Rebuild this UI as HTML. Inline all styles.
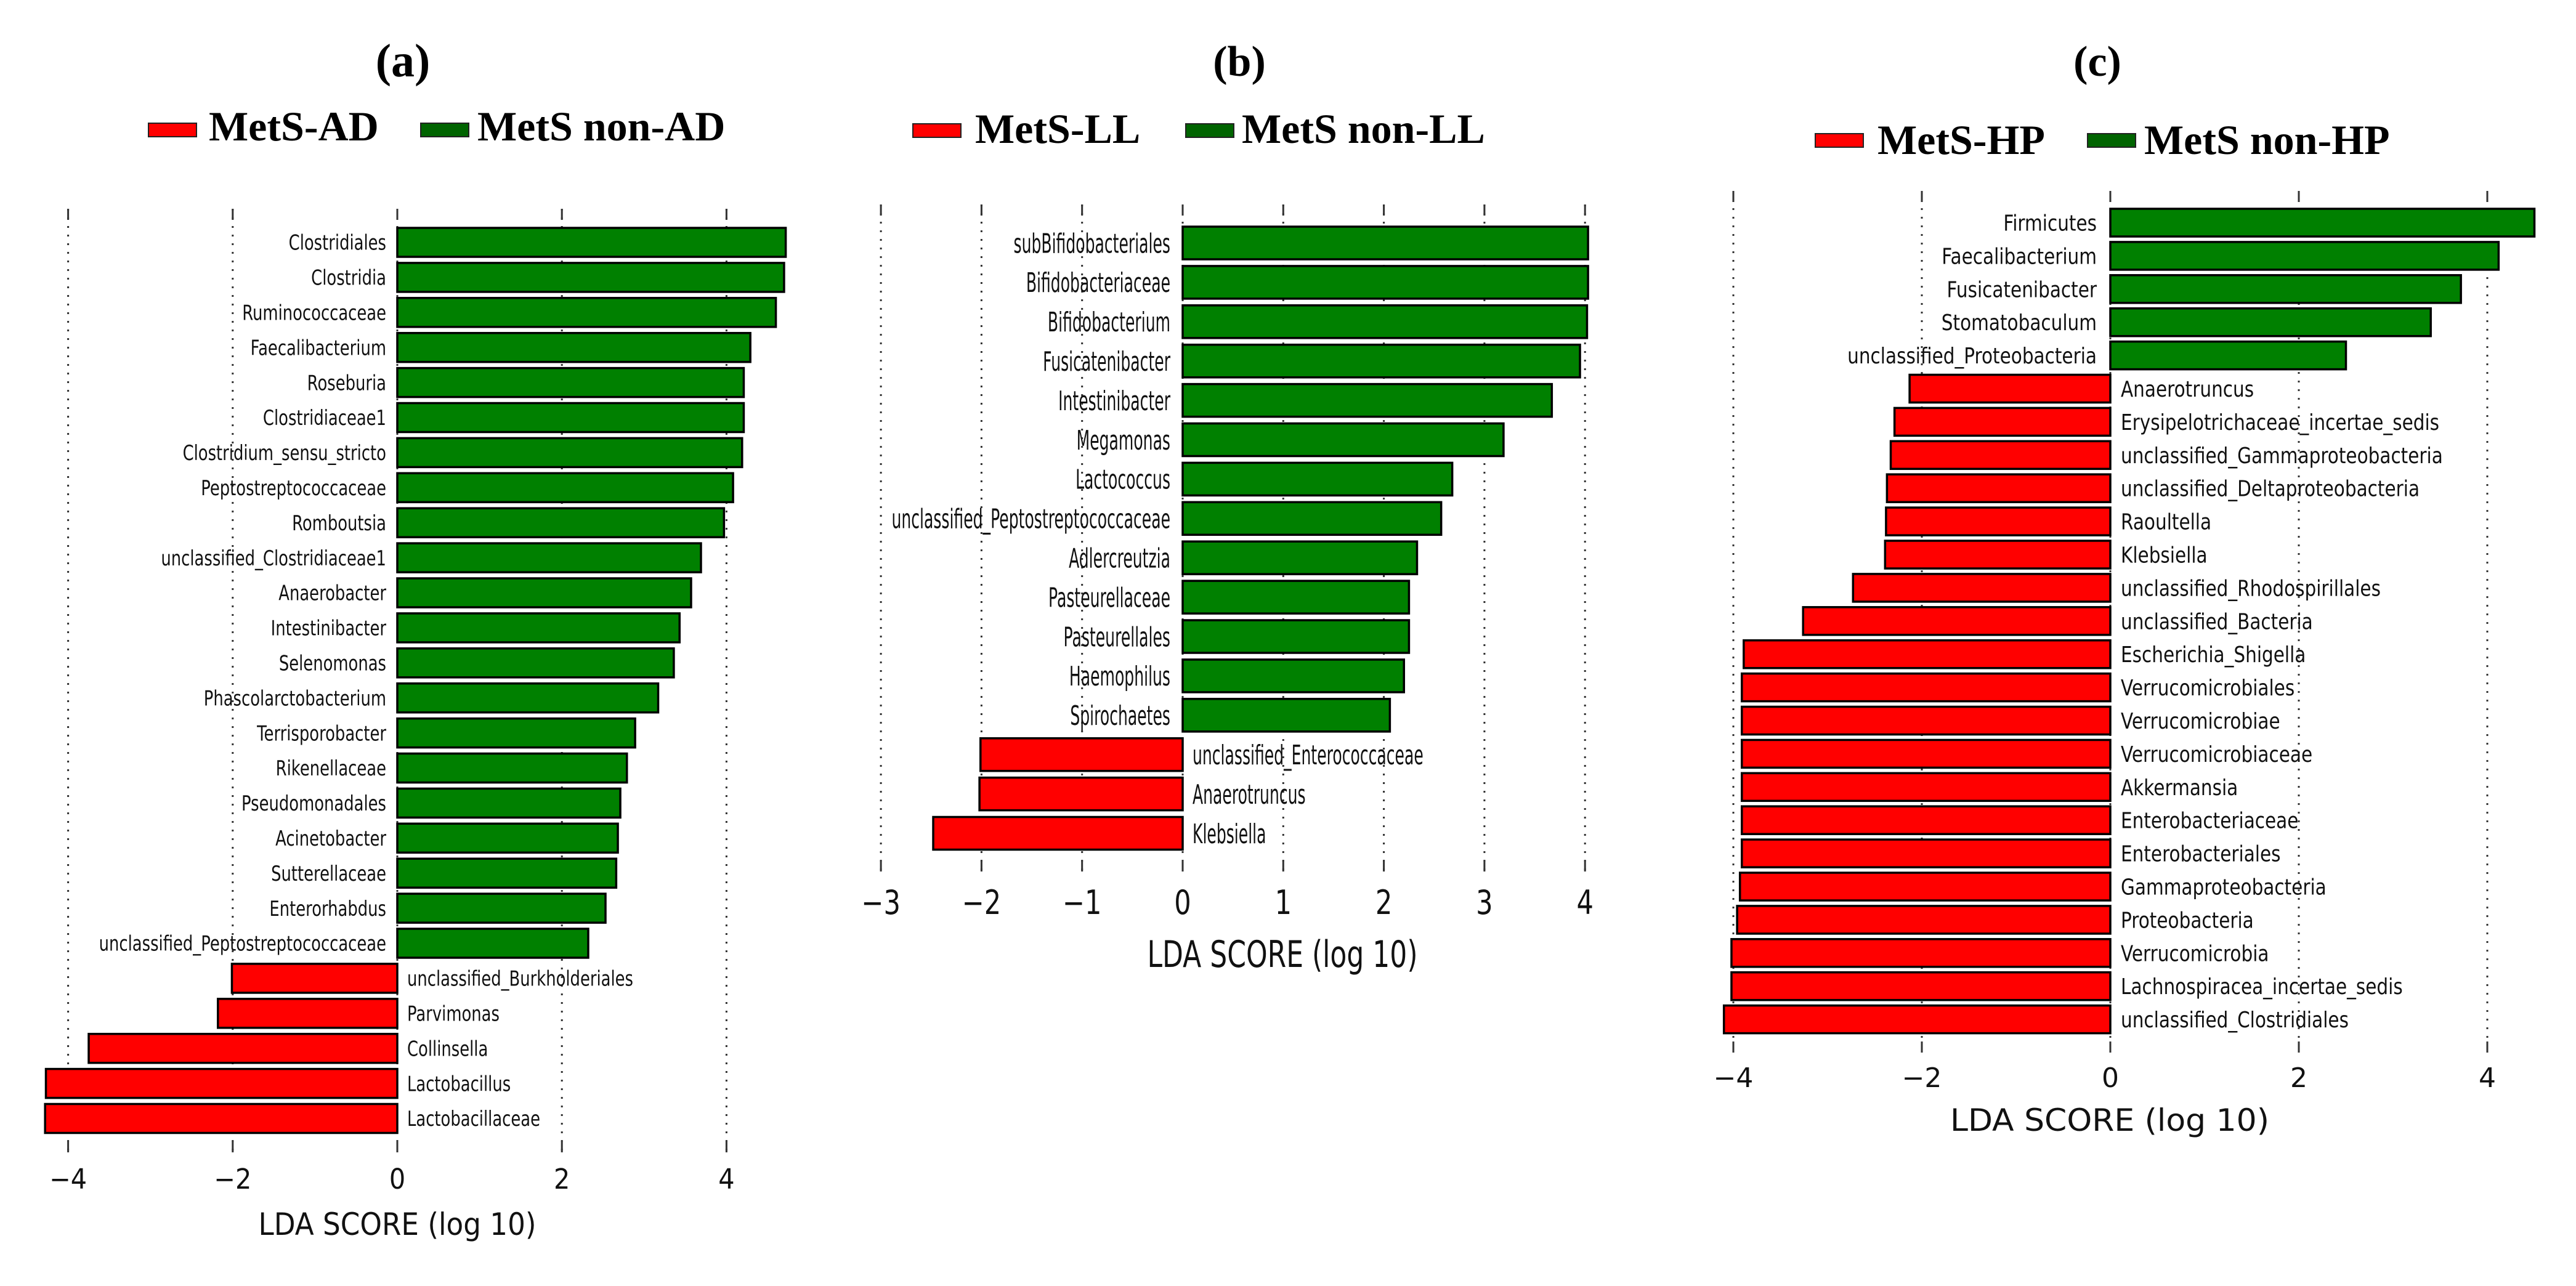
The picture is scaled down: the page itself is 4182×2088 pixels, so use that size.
<!DOCTYPE html>
<html><head><meta charset="utf-8"><style>
html,body{margin:0;padding:0;background:#fff;}
svg{display:block;}
.lg{font-family:"Liberation Serif",serif;font-weight:bold;}
.sn{font-family:"DejaVu Sans","Liberation Sans",sans-serif;fill:#111;}
</style></head><body>
<svg id="fig" width="4182" height="2088" viewBox="0 0 4182 2088" xmlns="http://www.w3.org/2000/svg">
<rect width="4182" height="2088" fill="#fff"/>
</svg>
<script>
// Panel (a)
const aCats = ["Clostridiales","Clostridia","Ruminococcaceae","Faecalibacterium","Roseburia","Clostridiaceae1","Clostridium_sensu_stricto","Peptostreptococcaceae","Romboutsia","unclassified_Clostridiaceae1","Anaerobacter","Intestinibacter","Selenomonas","Phascolarctobacterium","Terrisporobacter","Rikenellaceae","Pseudomonadales","Acinetobacter","Sutterellaceae","Enterorhabdus","unclassified_Peptostreptococcaceae","unclassified_Burkholderiales","Parvimonas","Collinsella","Lactobacillus","Lactobacillaceae"];
const aVals = [4.72,4.70,4.60,4.29,4.21,4.21,4.19,4.08,3.97,3.69,3.57,3.43,3.36,3.17,2.89,2.79,2.71,2.68,2.66,2.53,2.32,-2.01,-2.18,-3.75,-4.27,-4.28];
const aTicks = [-4,-2,0,2,4];
const aTickLabels = ["\u22124","\u22122","0","2","4"];
const aLegend = ["MetS-AD","MetS non-AD"];
// Panel (b)
const bCats = ["subBifidobacteriales","Bifidobacteriaceae","Bifidobacterium","Fusicatenibacter","Intestinibacter","Megamonas","Lactococcus","unclassified_Peptostreptococcaceae","Adlercreutzia","Pasteurellaceae","Pasteurellales","Haemophilus","Spirochaetes","unclassified_Enterococcaceae","Anaerotruncus","Klebsiella"];
const bVals = [4.03,4.03,4.02,3.95,3.67,3.19,2.68,2.57,2.33,2.25,2.25,2.20,2.06,-2.01,-2.02,-2.48];
const bTicks = [-3,-2,-1,0,1,2,3,4];
const bTickLabels = ["\u22123","\u22122","\u22121","0","1","2","3","4"];
const bLegend = ["MetS-LL","MetS non-LL"];
// Panel (c)
const cCats = ["Firmicutes","Faecalibacterium","Fusicatenibacter","Stomatobaculum","unclassified_Proteobacteria","Anaerotruncus","Erysipelotrichaceae_incertae_sedis","unclassified_Gammaproteobacteria","unclassified_Deltaproteobacteria","Raoultella","Klebsiella","unclassified_Rhodospirillales","unclassified_Bacteria","Escherichia_Shigella","Verrucomicrobiales","Verrucomicrobiae","Verrucomicrobiaceae","Akkermansia","Enterobacteriaceae","Enterobacteriales","Gammaproteobacteria","Proteobacteria","Verrucomicrobia","Lachnospiracea_incertae_sedis","unclassified_Clostridiales"];
const cVals = [4.50,4.12,3.72,3.40,2.50,-2.13,-2.29,-2.33,-2.37,-2.38,-2.39,-2.73,-3.26,-3.89,-3.91,-3.91,-3.91,-3.91,-3.91,-3.91,-3.93,-3.96,-4.02,-4.02,-4.10];
const cTicks = [-4,-2,0,2,4];
const cTickLabels = ["\u22124","\u22122","0","2","4"];
const cLegend = ["MetS-HP","MetS non-HP"];

const NS="http://www.w3.org/2000/svg";
const svg=document.getElementById('fig');
function mk(tag,attrs,parent){const e=document.createElementNS(NS,tag);for(const k in attrs)e.setAttribute(k,attrs[k]);(parent||svg).appendChild(e);return e;}

function panel(cfg,cats,vals,ticks,tickLabels,legend){
  const g=mk('g',{});
  
  
  const xs=v=>cfg.x0+v*cfg.unit;
  const ys=i=>cfg.top+i*cfg.pitch;
  const t=mk('text',{x:cfg.titleX,y:cfg.titleY,'text-anchor':'middle','font-size':cfg.titleFs,class:'lg'},g);
  t.textContent='('+cfg.id+')';
  
  
  const lc=['#ff0000','#006400'];
  for(let k=0;k<2;k++){
    const r=mk('rect',{x:cfg.leg[k][0],y:cfg.legY,width:78,height:22,fill:lc[k],stroke:'#222','stroke-width':2},g);
    
    
    const lt=mk('text',{x:cfg.leg[k][1],y:cfg.legBase,'font-size':68,class:'lg'},g);
    lt.textContent=legend[k];
    
    
  }
  ticks.forEach((v,i)=>{
    const x=xs(v);
    const gl=mk('line',{x1:x,x2:x,y1:cfg.gTop,y2:cfg.gBot,stroke:'#333','stroke-width':3,'stroke-dasharray':'3 11'},g);
    
    
    mk('line',{x1:x,x2:x,y1:cfg.gTop,y2:cfg.gTop+18,stroke:'#333','stroke-width':3},g);
    mk('line',{x1:x,x2:x,y1:cfg.gBot-18,y2:cfg.gBot,stroke:'#333','stroke-width':3},g);
    const tl=mk('text',{'text-anchor':'middle','font-size':cfg.tickFs,class:'sn',transform:`translate(${x},${cfg.tickBase}) scale(${cfg.tickSx},1)`},g);
    tl.textContent=tickLabels[i];
    
    
  });
  cats.forEach((c,i)=>{
    const v=vals[i];
    const y=ys(i);
    const x1=Math.min(xs(0),xs(v)), w=Math.abs(xs(v)-xs(0));
    const b=mk('rect',{x:x1,y:y,width:w,height:cfg.bh,fill:v>=0?'#008000':'#ff0000',stroke:'#000','stroke-width':3.5},g);
    
    
    const pos=v>=0;
    const lx=pos?xs(0)-cfg.lgap:xs(0)+cfg.rgap;
    const ly=y+cfg.bh/2+cfg.lblFs*0.36;
    const lb=mk('text',{'text-anchor':pos?'end':'start','font-size':cfg.lblFs,class:'sn',transform:`translate(${lx},${ly}) scale(${cfg.lblSx},1)`},g);
    lb.textContent=c;
    
    
  });
  const xl=mk('text',{x:cfg.xlX,y:cfg.xlBase,'text-anchor':'middle','font-size':cfg.xlFs,class:'sn',textLength:cfg.xlW,lengthAdjust:'spacingAndGlyphs'},g);
  xl.textContent='LDA SCORE (log 10)';
  
  
}

panel({id:'a',x0:645,unit:133.6,top:370,pitch:56.9,bh:47,titleX:654,titleY:124,titleFs:76,
  leg:[[241,339],[683,775]],legY:200,legBase:228,gTop:339,gBot:1871,tickFs:45,tickSx:0.92,tickBase:1930,
  lblFs:34,lblSx:0.76,lgap:18,rgap:16,xlX:645,xlBase:2005,xlFs:50,xlW:451},aCats,aVals,aTicks,aTickLabels,aLegend);
panel({id:'b',x0:1920,unit:163.3,top:368,pitch:63.9,bh:53,titleX:2012,titleY:123,titleFs:70,
  leg:[[1482,1583],[1925,2016]],legY:201,legBase:232,gTop:332,gBot:1415,tickFs:54,tickSx:0.8,tickBase:1484,
  lblFs:44,lblSx:0.57,lgap:20,rgap:16,xlX:2082,xlBase:1570,xlFs:60,xlW:439},bCats,bVals,bTicks,bTickLabels,bLegend);
panel({id:'c',x0:3426,unit:153,top:339,pitch:53.9,bh:45,titleX:3405,titleY:123,titleFs:70,
  leg:[[2947,3048],[3389,3481]],legY:217,legBase:250,gTop:310,gBot:1709,tickFs:44,tickSx:1.0,tickBase:1765,
  lblFs:36,lblSx:0.82,lgap:22,rgap:17,xlX:3425,xlBase:1836,xlFs:50,xlW:518},cCats,cVals,cTicks,cTickLabels,cLegend);
</script>
</body></html>
